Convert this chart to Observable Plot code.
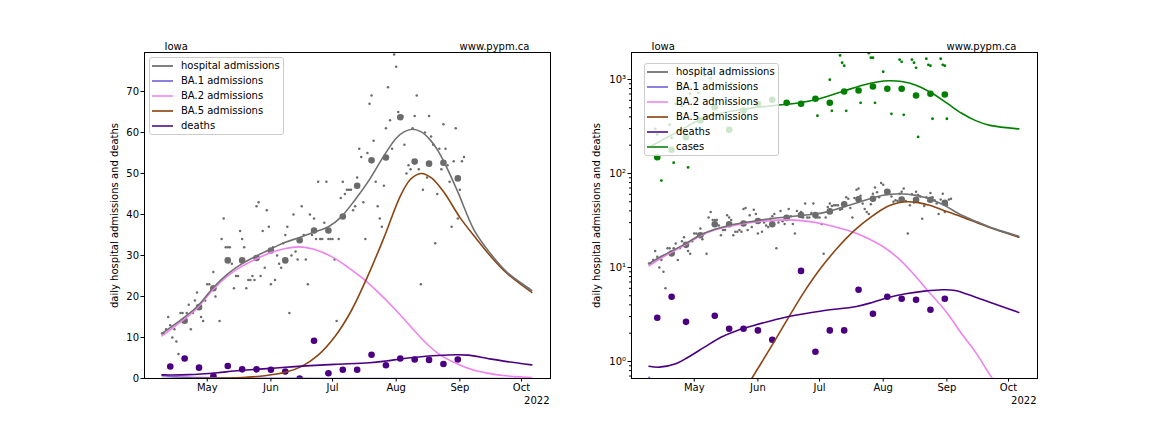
<!DOCTYPE html>
<html><head><meta charset="utf-8">
<script src="https://cdn.jsdelivr.net/npm/d3@7"></script>
<script src="https://cdn.jsdelivr.net/npm/@observablehq/plot@0.6"></script>
<style>
body{margin:0;background:#fff;font-family:"DejaVu Sans",sans-serif;}
#wrap{position:relative;width:1152px;height:432px;display:flex;overflow:hidden;}
#wrap svg{display:block;flex:none;}
.legend{position:absolute;background:rgba(255,255,255,0.8);border:1px solid #cccccc;border-radius:3px;box-sizing:border-box;font-family:"DejaVu Sans",sans-serif;font-size:10px;color:#000;}
.row{position:absolute;left:0;height:0;}
.row .sw{position:absolute;left:2px;width:21px;height:2px;top:-1px;}
.row .lb{position:absolute;left:31px;top:-7px;white-space:nowrap;line-height:14px;}
</style></head>
<body><div id="wrap"></div>
<script>
// ---------- data ----------
const dailyStart = "2022-04-09";
const hospDaily = [11,11,12,15,13,10,12,9,6,16,16,14,16,18,12,16,19,21,17,15,14,19,23,23,22,26,20,23,14,34,39,32,32,32,28,22,25,25,36,34,32,22,24,24,25,24,42,43,25,36,27,41,37,23,32,24,30,28,27,33,35,37,16,30,40,31,29,34,42,35,29,23,40,35,39,34,48,34,34,38,48,34,34,34,29,14,34,44,48,45,46,46,46,41,42,49,56,54,43,34,55,67,69,58,48,42,39,37,47,61,71,63,56,79,76,65,64,64,57,50,52,51,61,64,69,51,23,46,60,49,64,59,57,33,45,56,51,62,56,52,48,37,53,61,39,46,53,54];

const hospWeeklyStart = "2022-04-20";
const hospWeekly = [14.1,17.4,22.0,28.8,28.8,29.4,31.2,28.8,33.7,36.1,36.1,39.5,47.0,53.2,53.9,63.7,52.9,52.4,52.6,48.8];

const deathWeeklyStart = "2022-04-13";
const deathWeekly = [2.92,4.88,2.64,0.57,3.06,2.23,2.23,2.14,1.70,0,9.2,1.27,2.14,2.14,5.79,3.22,4.88,4.65,4.53,3.55,4.65];

const caseWeeklyStart = "2022-04-13";
const caseWeekly = [149,179,243,366,507,292,468,551,608,565,551,624,565,745,764,843,796,796,676,705,692];

const caseDailyDates = ["2022-04-12","2022-04-13","2022-04-15","2022-04-16","2022-04-19","2022-04-20","2022-04-21","2022-04-22","2022-04-25","2022-04-28","2022-04-29","2022-05-03","2022-05-06","2022-05-09","2022-05-15","2022-05-17","2022-05-19","2022-06-30","2022-07-06","2022-07-07","2022-07-11","2022-07-12","2022-07-13","2022-07-14","2022-07-21","2022-07-25","2022-07-26","2022-07-27","2022-07-28","2022-08-01","2022-08-05","2022-08-09","2022-08-10","2022-08-11","2022-08-15","2022-08-16","2022-08-17","2022-08-18","2022-08-22","2022-08-23","2022-08-24","2022-08-25","2022-08-29","2022-08-30","2022-08-31","2022-09-01"];
const caseDailyValues = [298,260,84,398,330,240,130,551,520,116,705,722,1100,1032,1197,1150,913,411,993,464,1800,1507,1400,464,565,1905,1702,1702,565,1208,431,1622,1542,421,1622,1507,1331,245,1661,1432,1400,382,1661,1432,1400,382];

const hospCurveDates = ["2022-04-09","2022-04-16","2022-04-26","2022-05-04","2022-05-11","2022-05-18","2022-05-25","2022-06-01","2022-06-08","2022-06-15","2022-06-22","2022-06-29","2022-07-05","2022-07-12","2022-07-19","2022-07-26","2022-08-01","2022-08-05","2022-08-09","2022-08-13","2022-08-17","2022-08-21","2022-08-25","2022-08-31","2022-09-08","2022-09-16","2022-09-24","2022-10-06"];
const hospCurveValues = [11.0,13.5,17.5,22.2,25.5,28.0,29.9,31.6,33.2,34.4,35.7,37.0,39.3,43.6,48.5,54.3,58.6,60.2,60.8,60.2,58.5,55.8,52.1,45.5,36.1,30.4,25.9,21.5];

const ba1Dates = ["2022-04-09","2022-04-16","2022-04-25","2022-05-05","2022-05-20","2022-06-10","2022-07-10","2022-08-10","2022-09-10","2022-10-06"];
const ba1Values = [0.68,0.42,0.25,0.15,0.07,0.03,0.01,0.004,0.002,0.001];

const ba2Dates = ["2022-04-09","2022-04-16","2022-04-26","2022-05-04","2022-05-11","2022-05-18","2022-05-25","2022-06-01","2022-06-08","2022-06-15","2022-06-22","2022-07-01","2022-07-08","2022-07-15","2022-07-22","2022-08-01","2022-08-08","2022-08-15","2022-08-22","2022-09-01","2022-09-08","2022-09-15","2022-09-22","2022-10-01","2022-10-06"];
const ba2Values = [10.4,13.0,17.1,21.8,25.0,27.4,29.2,30.7,31.7,32.1,31.5,29.6,27.3,24.7,21.6,16.6,12.7,8.9,5.9,3.3,2.0,1.25,0.72,0.37,0.25];

const ba5Dates = ["2022-04-09","2022-04-25","2022-05-10","2022-05-20","2022-05-29","2022-06-08","2022-06-16","2022-06-24","2022-07-02","2022-07-10","2022-07-18","2022-07-26","2022-08-03","2022-08-08","2022-08-13","2022-08-18","2022-08-24","2022-09-01","2022-09-09","2022-09-16","2022-09-24","2022-10-06"];
const ba5Values = [0.012,0.04,0.14,0.32,0.66,1.5,2.96,5.7,10.1,16.4,24.8,34.3,44.5,48.6,50.0,49.0,45.6,39.3,34.1,29.8,25.6,21.0];

const deathCurveDates = ["2022-04-09","2022-04-14","2022-04-22","2022-04-28","2022-05-06","2022-05-14","2022-05-22","2022-05-30","2022-06-08","2022-06-16","2022-07-02","2022-07-19","2022-07-27","2022-08-04","2022-08-12","2022-08-21","2022-08-30","2022-09-05","2022-09-15","2022-09-24","2022-10-06"];
const deathCurveValues = [0.89,0.87,0.945,1.11,1.42,1.81,2.14,2.41,2.73,3.01,3.45,3.85,4.27,4.83,5.25,5.6,5.8,5.7,4.83,4.11,3.32];

const caseCurveDates = ["2022-04-09","2022-04-21","2022-05-07","2022-05-23","2022-06-09","2022-06-22","2022-07-01","2022-07-13","2022-07-22","2022-07-29","2022-08-04","2022-08-10","2022-08-17","2022-08-24","2022-09-01","2022-09-08","2022-09-15","2022-09-22","2022-10-06"];
const caseCurveValues = [190,264,398,476,528,569,624,755,870,940,968,950,870,730,560,440,365,325,298];

const monthTicks = ["2022-05-01","2022-06-01","2022-07-01","2022-08-01","2022-09-01","2022-10-01"];
const monthLabels = ["May","Jun","Jul","Aug","Sep","Oct"];
const linearTicks = [0,10,20,30,40,50,60,70];
const logTicks = [1,10,100,1000];
const logTickLabels = ["10⁰","10¹","10²","10³"];
const yLabel = "daily hospital admissions and deaths";
const region = "Iowa";
const site = "www.pypm.ca";
const yearLabel = "2022";

// ---------- helpers ----------
const parse = s => new Date(s + "T00:00:00Z");
const byIndex = (start, arr, step) => arr.map((v, i) => ({date: d3.utcDay.offset(parse(start), step * i), value: v}));
const series = (dates, vals) => dates.map((d, i) => ({date: parse(d), value: vals[i]}));

const hD = byIndex(dailyStart, hospDaily, 1);
const hW = byIndex(hospWeeklyStart, hospWeekly, 7);
const dW = byIndex(deathWeeklyStart, deathWeekly, 7);
const cW = byIndex(caseWeeklyStart, caseWeekly, 7);
const cD = series(caseDailyDates, caseDailyValues);
const hC = series(hospCurveDates, hospCurveValues);
const b1 = series(ba1Dates, ba1Values);
const b2 = series(ba2Dates, ba2Values);
const b5 = series(ba5Dates, ba5Values);
const dC = series(deathCurveDates, deathCurveValues);
const cC = series(caseCurveDates, caseCurveValues);
const mTicks = monthTicks.map(parse);
const monthFmt = d => monthLabels[mTicks.findIndex(t => +t === +d)];

const xDomain = [new Date("2022-03-31T11:00:00Z"), new Date("2022-10-15T03:00:00Z")];
const style = {fontFamily: "DejaVu Sans", fontSize: "10px", background: "white", color: "black", overflow: "visible"};
const C = {grey: "#6b6b6b", greyLine: "#707070", ba1: "#7b68ee", ba2: "#ee82ee", ba5: "#8b4513", death: "#4b0082", cases: "#008000"};

function commonMarks(isLog) {
  const pos = d => isLog ? d.filter(p => p.value > 0) : d;
  const L = (data, stroke) => Plot.line(pos(data), {x: "date", y: "value", stroke, strokeWidth: 1.6, curve: "catmull-rom", clip: true});
  return [
    Plot.dot(pos(hD), {x: "date", y: "value", r: 1.25, fill: C.grey, clip: true}),
    Plot.dot(pos(hW), {x: "date", y: "value", r: 3.3, fill: C.grey, clip: true}),
    Plot.dot(pos(dW), {x: "date", y: "value", r: 3.3, fill: C.death, clip: true}),
    L(b1, C.ba1),
    L(b2, C.ba2),
    L(b5, C.ba5),
    L(hC, C.greyLine),
    L(dC, C.death),
  ];
}
function textMarks(dxLabel) {
  return [
    Plot.frame({stroke: "black", strokeWidth: 1}),
    Plot.axisX({ticks: mTicks, tickFormat: monthFmt, tickSize: 3.5, tickPadding: 2, label: null}),
    Plot.text([region], {text: d => d, frameAnchor: "top-left", dx: 20, dy: -10, textAnchor: "start", fontSize: 10}),
    Plot.text([site], {text: d => d, frameAnchor: "top-right", dx: -21, dy: -10, textAnchor: "end", fontSize: 10}),
    Plot.text([yearLabel], {text: d => d, frameAnchor: "bottom-right", dx: -1, dy: 25, textAnchor: "end", fontSize: 10}),
    Plot.text([yLabel], {text: d => d, frameAnchor: "left", dx: dxLabel, rotate: -90, textAnchor: "middle", lineAnchor: "middle", fontSize: 10}),
  ];
}

const left = Plot.plot({
  width: 576, height: 432, marginLeft: 144, marginRight: 26, marginTop: 52, marginBottom: 54,
  style,
  x: {type: "utc", domain: xDomain},
  y: {domain: [0, 79.5]},
  marks: [
    ...commonMarks(false),
    Plot.axisY({ticks: linearTicks, tickSize: 3.5, tickPadding: 2, label: null}),
    ...textMarks(-30),
  ]
});

const minor = [];
for (const e of [-1, 0, 1, 2, 3]) for (let k = 2; k <= 9; k++) {
  const v = k * Math.pow(10, e);
  if (v > 0.659 && v < 1936) minor.push(v);
}
const right = Plot.plot({
  width: 576, height: 432, marginLeft: 55, marginRight: 115, marginTop: 52, marginBottom: 54,
  style,
  x: {type: "utc", domain: xDomain},
  y: {type: "log", domain: [0.659, 1936]},
  marks: [
    Plot.dot(cD, {x: "date", y: "value", r: 1.4, fill: C.cases, clip: true}),
    Plot.dot(cW, {x: "date", y: "value", r: 3.3, fill: C.cases, clip: true}),
    ...commonMarks(true),
    Plot.line(cC, {x: "date", y: "value", stroke: C.cases, strokeWidth: 1.6, curve: "catmull-rom", clip: true}),
    Plot.axisY({ticks: minor, tickSize: 2, tickFormat: () => "", label: null}),
    Plot.axisY({ticks: logTicks, tickSize: 3.5, tickPadding: 2, tickFormat: d => logTickLabels[logTicks.indexOf(d)], label: null}),
    ...textMarks(-35),
  ]
});

const wrap = document.getElementById("wrap");
wrap.append(left, right);

// ---------- legends (HTML overlay) ----------
const legendItems = [
  ["hospital admissions", "#808080"],
  ["BA.1 admissions", "#8b7fe0"],
  ["BA.2 admissions", "#f0a0f0"],
  ["BA.5 admissions", "#a2643a"],
  ["deaths", "#7040a0"],
  ["cases", "#3d9c3d"],
];
function legend(x, y, w, n) {
  const box = document.createElement("div");
  box.className = "legend";
  box.style.left = x + "px"; box.style.top = y + "px";
  box.style.width = w + "px"; box.style.height = (n * 15.1 + 2.5) + "px";
  legendItems.slice(0, n).forEach(([label, color], i) => {
    const row = document.createElement("div");
    row.className = "row";
    row.style.top = (7.5 + i * 15.1) + "px";
    const sw = document.createElement("div"); sw.className = "sw"; sw.style.background = color;
    const lb = document.createElement("div"); lb.className = "lb"; lb.textContent = label;
    row.append(sw, lb); box.append(row);
  });
  wrap.append(box);
}
legend(149, 57, 135, 5);
legend(644, 63, 135, 6);
</script></body></html>
